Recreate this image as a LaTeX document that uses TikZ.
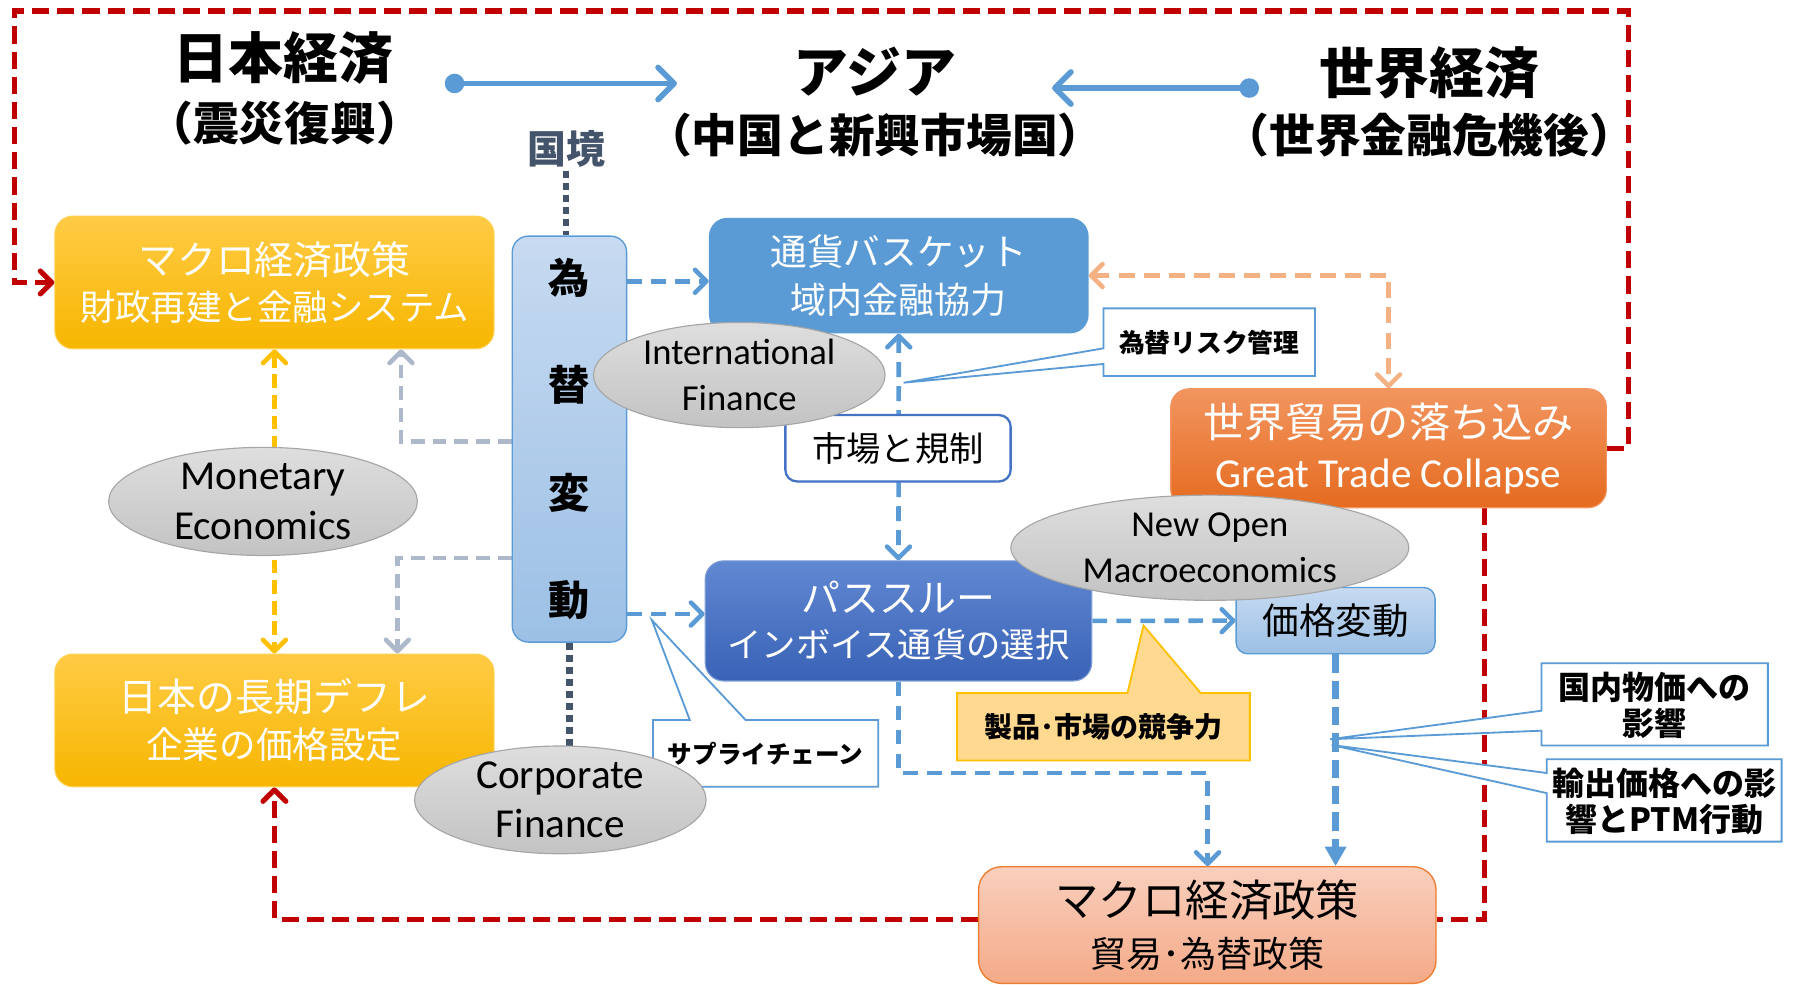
\documentclass[tikz,border=0pt]{standalone}
\usepackage{fontspec}
\setmainfont{Noto Sans CJK JP}
\newfontfamily\lat{Carlito}
\usetikzlibrary{arrows.meta,shapes.geometric}
\pgfdeclarelayer{bg}
\pgfsetlayers{bg,main}

\definecolor{dkred}{HTML}{C00000}
\definecolor{blueA}{HTML}{5B9BD5}
\definecolor{blueB}{HTML}{4472C4}
\definecolor{slate}{HTML}{44546A}
\definecolor{grayblue}{HTML}{ADB9CA}
\definecolor{peach}{HTML}{F4B183}
\definecolor{gold}{HTML}{FFC000}
\definecolor{goldTop}{HTML}{FFCB45}
\definecolor{goldBot}{HTML}{F7B600}
\definecolor{goldLine}{HTML}{FFD050}
\definecolor{lbTop}{HTML}{C7DAF1}
\definecolor{lbBot}{HTML}{9CC0E5}
\definecolor{dbTop}{HTML}{6088D2}
\definecolor{dbBot}{HTML}{3A62B6}
\definecolor{orTop}{HTML}{F29560}
\definecolor{orBot}{HTML}{E56B1F}
\definecolor{pkTop}{HTML}{F9CFBD}
\definecolor{pkBot}{HTML}{F4AA88}
\definecolor{pkLine}{HTML}{ED7D31}
\definecolor{elTop}{HTML}{DEDEDE}
\definecolor{elBot}{HTML}{C3C3C3}
\definecolor{elLine}{HTML}{A6A6A6}
\definecolor{ylw}{HTML}{FFD98F}

\tikzset{
  vtip/.tip={Straight Barb[length=10pt,width=20pt,round]},
  hdr/.style={font=\bfseries\fontsize{48}{56}\selectfont, inner sep=0pt},
  subhdr/.style={font=\bfseries\fontsize{40}{46}\selectfont, inner sep=0pt},
  rbox/.style={rounded corners=16pt, align=center, inner sep=0pt},
  goldbox/.style={rbox, top color=goldTop, bottom color=goldBot, draw=goldLine, line width=1pt, text=white, minimum width=384pt, minimum height=116pt},
  lightbox/.style={rbox, top color=lbTop, bottom color=lbBot, draw=blueA, line width=1.2pt, text=black},
  ell/.style={ellipse, inner sep=0pt, top color=elTop, bottom color=elBot, draw=elLine, line width=1pt, align=center, text=black},
  callout/.style={draw=blueA, fill=white, line width=1.6pt, line join=miter},
  ctext/.style={inner sep=0pt, align=center, text=black},
  redline/.style={draw=dkred, line width=4.5pt, dash pattern=on 15pt off 7pt},
  bdash/.style={draw=blueA, line width=4pt, dash pattern=on 13pt off 8pt},
  bdashB/.style={draw=blueA, line width=5.5pt, dash pattern=on 16pt off 7pt},
  ydash/.style={draw=gold, line width=4pt, dash pattern=on 12pt off 6pt},
  gdash/.style={draw=grayblue, line width=4pt, dash pattern=on 12pt off 7pt},
  pdash/.style={draw=peach, line width=4pt, dash pattern=on 14pt off 8pt},
  slatedot/.style={draw=slate, line width=6pt, dash pattern=on 6pt off 4.5pt},
  toparrow/.style={draw=blueA, line width=5pt, {Circle[length=17pt]}-{Straight Barb[length=14pt,width=28pt,round]}}
}

\begin{document}
\begin{tikzpicture}[x=1pt,y=-1pt]
\useasboundingbox (0,0) rectangle (1568,861);

% ---- headers
\node[hdr] (jp) at (248,51) {日本経済};
\node[subhdr] (jps) at (249,108) {（震災復興）};
\node[hdr] (as) at (765,63) {アジア};
\node[subhdr] (ass) at (765,118) {（中国と新興市場国）};
\node[hdr] (wd) at (1250,64) {世界経済};
\node[subhdr] (wds) at (1250,118) {（世界金融危機後）};
\node[font=\bfseries\fontsize{34}{40}\selectfont, text=slate] (kk) at (495,130) {国境};
\coordinate (a1) at (389,73);
\coordinate (a2) at (592,73);
\coordinate (b1) at (1101,77);
\coordinate (b2) at (920,77);

% ---- boxes
\node[goldbox, font=\fontsize{34}{40}\selectfont] (m1) at (240,247)
  {マクロ経済政策\\{\fontsize{31}{40}\selectfont 財政再建と金融システム}};
\node[goldbox, font=\fontsize{34}{41}\selectfont] (m2) at (240,630)
  {日本の長期デフレ\\{\fontsize{32}{41}\selectfont 企業の価格設定}};
\node[lightbox, rounded corners=14pt, minimum width=100pt, minimum height=355pt,
      font=\bfseries\fontsize{36}{94}\selectfont] (kw) at (498,384) {為\\替\\変\\動};
\node[rbox, fill=blueA, text=white, minimum width=332pt, minimum height=101pt,
      font=\fontsize{32}{42}\selectfont] (tk) at (786,241)
  {通貨バスケット\\{\fontsize{31.5}{42}\selectfont 域内金融協力}};
\node[rbox, top color=dbTop, bottom color=dbBot, draw=blueB!70!white, line width=1pt, text=white,
      minimum width=338pt, minimum height=105pt, font=\fontsize{34}{39}\selectfont] (ps) at (785.7,543)
  {パススルー\\{\fontsize{30}{39}\selectfont インボイス通貨の選択}};
\node[rbox, top color=orTop, bottom color=orBot, draw=orTop, line width=1pt, text=white,
      minimum width=381pt, minimum height=104pt, font=\fontsize{36}{44}\selectfont] (wt) at (1214.3,392)
  {世界貿易の落ち込み\\{\lat\fontsize{36}{44}\selectfont Great Trade Collapse}};
\node[lightbox, rounded corners=10pt, minimum width=174pt, minimum height=58pt,
      font=\fontsize{32}{38}\selectfont] (pk) at (1168,542.75) {価格変動};
\node[rbox, rounded corners=20pt, top color=pkTop, bottom color=pkBot, draw=pkLine, line width=1.2pt, text=black,
      minimum width=400pt, minimum height=102pt, font=\fontsize{38}{44}\selectfont] (bot) at (1055.8,809)
  {マクロ経済政策\\{\fontsize{31.5}{44}\selectfont 貿易･為替政策}};

% ---- connectors (behind)
\begin{pgfonlayer}{bg}
\draw[redline,-{vtip}] (wt.east) -| (1424,9.6) -| (12.6,247) -- (m1.west);
\coordinate (rb) at (1298,804);
\draw[redline] (wt.south -| rb) -- (rb) -- (bot.east |- rb);
\draw[redline,-{vtip}] (bot.west |- rb) -| (m2.south);
\draw[toparrow] (a1) -- (a2);
\draw[toparrow] (b1) -- (b2);
\draw[slatedot] (kk.south) -- (kk.south |- kw.north);
\draw[slatedot] (kw.south) -- ++(0,95);
\draw[ydash,{vtip}-{vtip}] (m1.south) -- (m2.north);
\draw[gdash,-{vtip}] (kw.west |- 0,386) -| (350.6,0 |- m1.south);
\draw[gdash,-{vtip}] (kw.west |- 0,488) -| (347.5,0 |- m2.north);
\draw[bdash,-{vtip}] (kw.east |- 0,246) -- (tk.west |- 0,246);
\draw[bdash,-{vtip}] (kw.east |- 0,537) -- (ps.west |- 0,537);
\draw[bdash,{vtip}-{vtip}] (tk.south) -- (ps.north);
\draw[bdash,-{vtip}] (ps.east) -- (pk.west);
\draw[bdash,-{vtip}] (ps.south) |- (1056,676) -- (1056,0 |- bot.north);
\draw[bdashB,-{Triangle[length=17pt,width=18pt]}] (pk.south) -- (pk.south |- bot.north);
\draw[pdash,{vtip}-{vtip}] (tk.east) -| (wt.north);
\end{pgfonlayer}

\node[rbox, rounded corners=10pt, draw=blueB, line width=2pt, fill=white, text=black,
      minimum width=197pt, minimum height=58pt, font=\fontsize{30}{36}\selectfont] (mk) at (785.3,392) {市場と規制};

% ---- callouts
\draw[callout] (965,269.7) -- (1150,269.7) -- (1150,328.8) -- (965,328.8) -- (965,318.3) -- (790.2,334.7) -- (965,304.6) -- cycle;
\node[ctext, font=\bfseries\fontsize{22.5}{26}\selectfont] (rk) at (1057.5,299.3) {為替リスク管理};

\draw[callout] (571,629.6) -- (603.2,629.6) -- (570,542.2) -- (652,629.6) -- (768,629.6) -- (768,688) -- (571,688) -- cycle;
\node[ctext, font=\bfseries\fontsize{21.5}{26}\selectfont] (sc) at (669.5,658.8) {サプライチェーン};

\draw[callout, fill=ylw, draw=gold] (837,606) -- (986,606) -- (1000,547) -- (1050,606) -- (1093,606) -- (1093,665) -- (837,665) -- cycle;
\node[ctext, font=\bfseries\fontsize{24.5}{28}\selectfont] (sp) at (965,635.5) {製品･市場の競争力};

\draw[callout] (1348,580) -- (1546,580) -- (1546,652) -- (1348,652) -- (1348,639) -- (1163,646.5) -- (1348,621.5) -- cycle;
\node[ctext, font=\bfseries\fontsize{28}{32}\selectfont] (dp) at (1447,617) {国内物価への\\影響};

\draw[callout] (1352.6,664) -- (1558,664) -- (1558,736) -- (1352.6,736) -- (1352.6,693.6) -- (1164.5,651.5) -- (1352.6,676) -- cycle;
\node[ctext, font=\bfseries\fontsize{28}{32}\selectfont] (ep) at (1455.3,701) {輸出価格への影\\響とPTM行動};

% ---- ellipses
\node[ell, minimum width=270pt, minimum height=93pt, font=\lat\fontsize{36}{43.5}\selectfont] (mon) at (230,438.5) {Monetary\\Economics};
\node[ell, minimum width=255pt, minimum height=92pt, font=\lat\fontsize{32}{40}\selectfont] (intl) at (646.5,328) {International\\Finance};
\node[ell, minimum width=348pt, minimum height=92pt, font=\lat\fontsize{32}{40}\selectfont] (nop) at (1058,479) {New Open\\Macroeconomics};
\node[ell, minimum width=255pt, minimum height=93pt, font=\lat\fontsize{36}{43}\selectfont] (corp) at (490,699.5) {Corporate\\Finance};
\end{tikzpicture}
\end{document}
